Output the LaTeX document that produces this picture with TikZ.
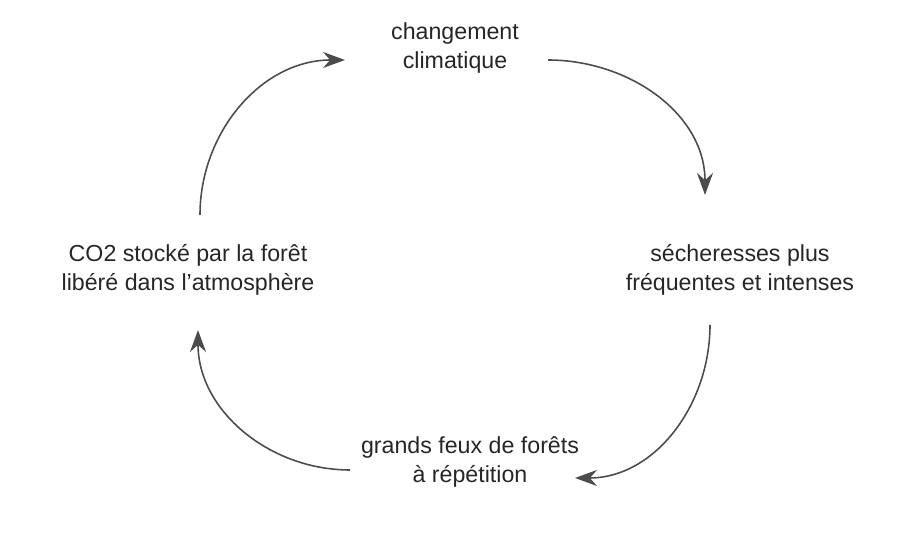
\documentclass[tikz,border=0pt]{standalone}
\usepackage{fontspec}
\setmainfont{Liberation Sans}
\usetikzlibrary{arrows.meta}
\begin{document}
\begin{tikzpicture}[
    lbl/.style={align=center,font=\fontsize{6.6}{8.4}\selectfont,text=black!85},
    cyc/.style={draw=black!70,line width=0.45pt,-{Stealth[length=2.2mm,width=1.6mm]}}]
        \useasboundingbox (0,0) rectangle (9,5.43);
        \node[lbl] (clim) at (4.55,4.95) {changement\\climatique};
        \node[lbl] (sech) at (7.40,2.73) {sécheresses plus\\fréquentes et intenses};
        \node[lbl] (feux) at (4.70,0.81) {grands feux de forêts\\à répétition};
        \node[lbl] (co2) at (1.88,2.73) {CO2 stocké par la forêt\\libéré dans l’atmosphère};

        \coordinate (c1) at (5.48,4.83);
        \coordinate (s0) at (7.05,3.48);
        \coordinate (s1) at (7.10,2.18);
        \coordinate (f0) at (5.75,0.65);
        \coordinate (f1) at (3.50,0.73);
        \coordinate (o0) at (1.98,2.13);
        \coordinate (o1) at (2.00,3.28);
        \coordinate (c0) at (3.45,4.83);

        \draw[cyc] (c1) to[out=0,in=90] (s0);
        \draw[cyc] (s1) to[out=-90,in=0] (f0);
        \draw[cyc] (f1) to[out=180,in=-90] (o0);
        \draw[cyc] (o1) to[out=90,in=180] (c0);
    \end{tikzpicture}
\end{document}
